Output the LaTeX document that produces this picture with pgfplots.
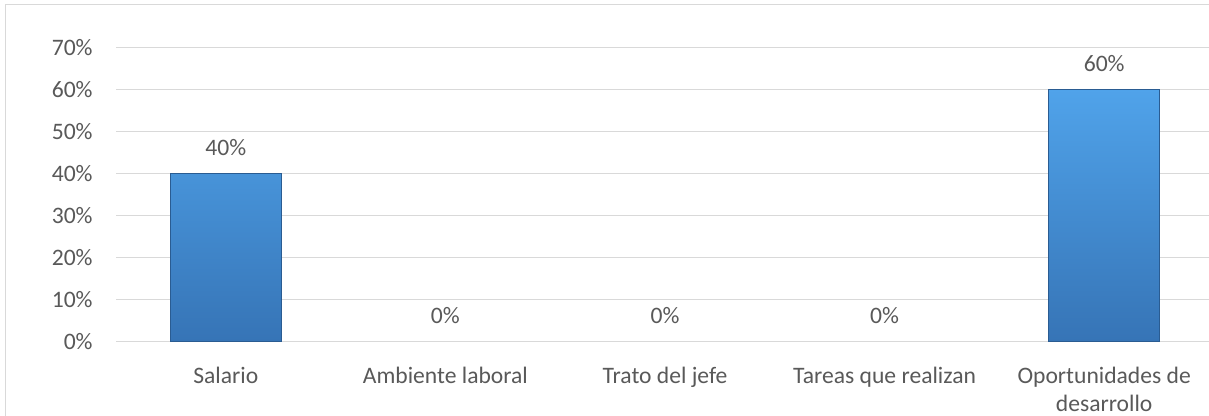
\documentclass[border=0pt]{standalone}
\usepackage{pgfplots}
\pgfplotsset{compat=1.18}
\usepackage{fontspec}
\setmainfont{Carlito}
\definecolor{txt}{HTML}{595959}
\definecolor{gridc}{HTML}{D9D9D9}
\definecolor{bartop}{RGB}{80,163,234}
\definecolor{barbot}{RGB}{54,116,182}
\definecolor{baredge}{RGB}{42,92,146}
\begin{document}
\begin{tikzpicture}
\path[use as bounding box] (0,0) rectangle (604.5pt,-208pt);
\clip (0,0) rectangle (604.5pt,-208pt);
\draw[gridc, line width=0.75pt] (2.75pt,-2.25pt) rectangle (620pt,-220pt);
\begin{axis}[
  at={(58pt,-170.65pt)}, anchor=south west,
  width=549pt, height=147pt, scale only axis,
  xmin=-0.5, xmax=4.5, ymin=0, ymax=70,
  axis line style={draw=none},
  major tick length=0pt,
  ymajorgrids,
  major grid style={gridc, line width=0.75pt},
  xtick={0,1,2,3,4},
  xticklabels={Salario, Ambiente laboral, Trato del jefe, Tareas que realizan, {Oportunidades de\\desarrollo}},
  ytick={0,10,...,70},
  yticklabel={\pgfmathprintnumber{\tick}\%},
  /pgf/number format/assume math mode=true,
  ticklabel style={font=\fontsize{11.8}{14}\selectfont, text=txt},
  xticklabel style={anchor=north, inner sep=0pt, yshift=-12.5pt, align=center},
  yticklabel style={anchor=east, inner sep=0pt, xshift=-11.5pt},
  clip=false,
]
\addplot[ybar, bar width=55.5pt, bar shift=0pt, draw=baredge, line width=0.5pt,
  top color=bartop, bottom color=barbot] coordinates {(0,40) (4,60)};
\addplot[ybar, bar width=55.5pt, bar shift=0pt, draw=none, fill=none,
  nodes near coords={\pgfmathprintnumber{\pgfplotspointmeta}\%},
  every node near coord/.append style={anchor=south, inner sep=0pt, yshift=8.8pt,
    font=\fontsize{11.8}{14}\selectfont, text=txt}]
  coordinates {(0,40) (1,0) (2,0) (3,0) (4,60)};
\end{axis}
\end{tikzpicture}
\end{document}
